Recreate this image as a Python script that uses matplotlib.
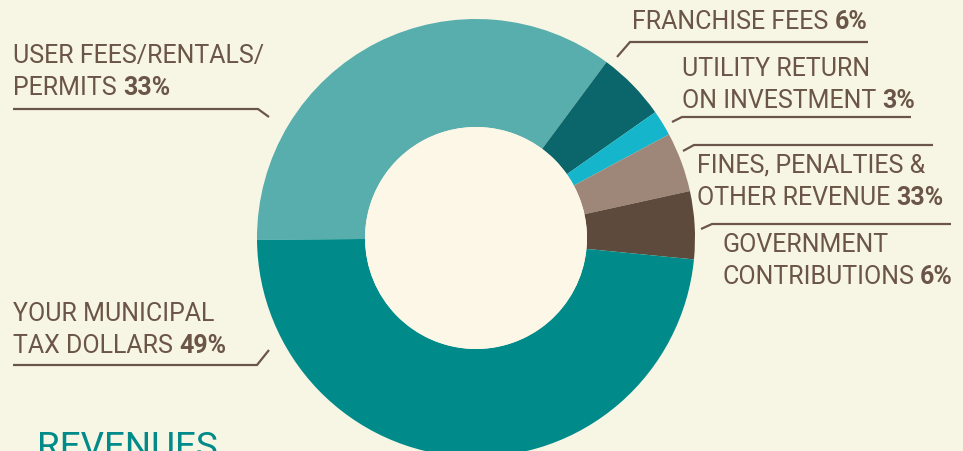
import matplotlib
matplotlib.use("Agg")
import matplotlib.pyplot as plt
from matplotlib import font_manager

# revenue shares (the printed labels differ)
categories = ["User Fees/Rentals/Permits", "Franchise Fees", "Utility Return on Investment",
              "Fines, Penalties & Other Revenue", "Government Contributions",
              "Your Municipal Tax Dollars"]
shares = [35.3, 5.1, 1.9, 4.4, 5.0, 48.3]
colors = ["#58adad", "#0b666b", "#15b5cb", "#9e8778", "#5e4a3c", "#008b8a"]

label_lines = [["USER FEES/RENTALS/", "PERMITS"], ["FRANCHISE FEES"],
               ["UTILITY RETURN", "ON INVESTMENT"], ["FINES, PENALTIES &", "OTHER REVENUE"],
               ["GOVERNMENT", "CONTRIBUTIONS"], ["YOUR MUNICIPAL", "TAX DOLLARS"]]
label_pcts = ["33%", "6%", "3%", "33%", "6%", "49%"]

BG = "#f7f6e5"
HOLE = "#fcf7e6"
INK = "#6b5548"

names = {f.name for f in font_manager.fontManager.ttflist}
FONT = ["Liberation Sans Narrow"] if "Liberation Sans Narrow" in names else ["Roboto", "DejaVu Sans"]
plt.rcParams['font.family'] = FONT + ["DejaVu Sans"]

W, H = 963, 451
fig = plt.figure(figsize=(W / 100, H / 100), dpi=100, facecolor=BG)
ax = fig.add_axes([0, 0, 1, 1])
ax.set_facecolor(BG)

cx, cy, R = 476, H - 238, 219
ax.pie(shares, colors=colors, startangle=180.5, counterclock=False, radius=R,
       center=(cx, cy), wedgeprops=dict(width=108, linewidth=0))
ax.add_patch(plt.Circle((cx, cy), R - 108, color=HOLE, lw=0))

ax.set_xlim(0, W)
ax.set_ylim(0, H)
ax.set_aspect('equal')
ax.axis('off')

# text anchors (left x, baseline of first line) and leader lines, in pixels from top
text_pos = [(13, 63), (632, 29), (682, 76), (697, 173), (722, 252), (13, 321)]
leaders = [
    [(13, 109), (258, 109), (269, 117)],
    [(868, 42), (630, 42), (617, 57)],
    [(911, 117), (682, 117), (672, 122)],
    [(933, 145), (694, 145), (683, 151)],
    [(951, 224), (712, 224), (701, 229)],
    [(13, 365), (257, 365), (269, 350)],
]
line_gap = 32
fs = 18

for lines, pct, (tx, ty), pts in zip(label_lines, label_pcts, text_pos, leaders):
    for i, ln in enumerate(lines):
        t = ax.text(tx, H - (ty + i * line_gap), ln, fontsize=fs, color=INK,
                    ha='left', va='baseline')
    ax.annotate(pct, xy=(1, 0), xycoords=t, xytext=(4.5, 0), textcoords='offset points',
                fontsize=fs, fontweight='bold', color=INK, ha='left', va='bottom')
    ax.plot([p[0] for p in pts], [H - p[1] for p in pts], color=INK, lw=1.6,
            solid_capstyle='butt', solid_joinstyle='miter')

ax.text(37, H - 458, "REVENUES", fontsize=26.5, color="#008b8a", ha='left', va='baseline')

fig.savefig("out.png", dpi=100, facecolor=BG)
